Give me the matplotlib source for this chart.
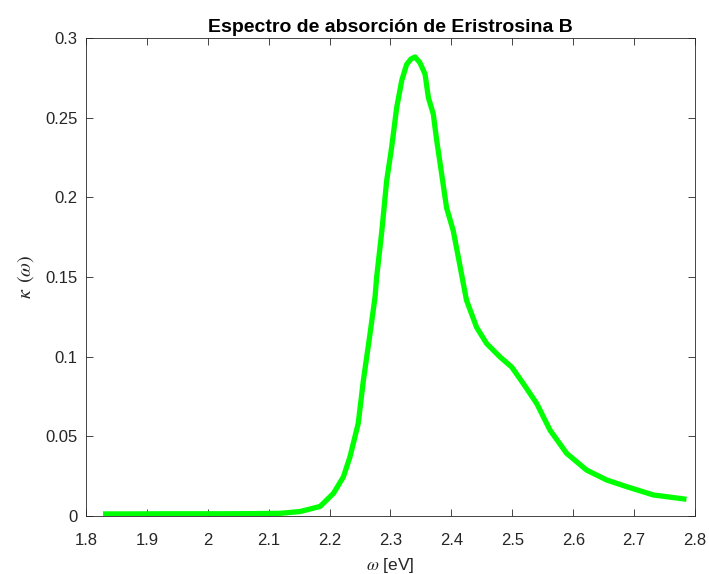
import matplotlib
matplotlib.use("Agg")
import matplotlib.pyplot as plt

plt.rcParams['font.family'] = ['Liberation Sans', 'DejaVu Sans']
plt.rcParams['mathtext.fontset'] = 'stix'

omega = [1.828, 1.88, 1.93, 1.98, 2.03, 2.08, 2.12, 2.1516, 2.1844, 2.2063, 2.2227,
         2.2335, 2.247, 2.2555, 2.2664, 2.2746, 2.2773, 2.2858, 2.2937, 2.3019, 2.3102,
         2.3185, 2.3265, 2.3335, 2.3403, 2.3483, 2.3567, 2.3623, 2.3702, 2.376, 2.3841,
         2.3921, 2.403, 2.4114, 2.4248, 2.4414, 2.4579, 2.4799, 2.499, 2.5181, 2.5401,
         2.5619, 2.5893, 2.6221, 2.655, 2.6879, 2.7316, 2.786]
kappa = [0.0013, 0.0013, 0.0014, 0.0014, 0.0014, 0.0015, 0.0017, 0.0028, 0.006, 0.0142,
         0.0246, 0.0372, 0.0581, 0.0852, 0.1144, 0.1374, 0.15, 0.179, 0.2104, 0.2314,
         0.2564, 0.2734, 0.2834, 0.2868, 0.2881, 0.2845, 0.2774, 0.2624, 0.2524, 0.2354,
         0.2144, 0.1934, 0.1791, 0.1624, 0.1354, 0.1184, 0.1082, 0.0998, 0.0935, 0.0831,
         0.0706, 0.0539, 0.0393, 0.0288, 0.0226, 0.0184, 0.0132, 0.0105]

xticks = [1.8, 1.9, 2.0, 2.1, 2.2, 2.3, 2.4, 2.5, 2.6, 2.7, 2.8]
xticklabels = ['1.8', '1.9', '2', '2.1', '2.2', '2.3', '2.4', '2.5', '2.6', '2.7', '2.8']
yticks = [0, 0.05, 0.1, 0.15, 0.2, 0.25, 0.3]
yticklabels = ['0', '0.05', '0.1', '0.15', '0.2', '0.25', '0.3']

fig = plt.figure(figsize=(7.09, 5.74), dpi=100)
ax = fig.add_axes([86/709, 58/574, 609/709, 478/574])
ax.plot(omega, kappa, color=(0, 1, 0), lw=3.8, solid_joinstyle='round', solid_capstyle='butt')
ax.set_xlim(1.8, 2.8)
ax.set_ylim(0, 0.3)
ax.set_xticks(xticks)
ax.set_xticklabels(xticklabels)
ax.set_yticks(yticks)
ax.set_yticklabels(yticklabels)
tc = '#262626'
ax.tick_params(direction='in', top=True, right=True, length=5, width=0.6,
               colors=tc, labelsize=12)
ax.tick_params(axis='x', pad=12)
ax.tick_params(axis='y', pad=6)
for s in ax.spines.values():
    s.set_color(tc)
    s.set_linewidth(0.6)
ax.set_title('Espectro de absorción de Eristrosina B', fontsize=14, fontweight='bold',
             color='black', pad=4)
ax.set_xlabel(r'$\omega$ [eV]', fontsize=12.5, color=tc, labelpad=6)
ax.set_ylabel(r'$\kappa\ \,(\omega)$', fontsize=14.5, color=tc, labelpad=7)
fig.savefig('out.png', dpi=100)
